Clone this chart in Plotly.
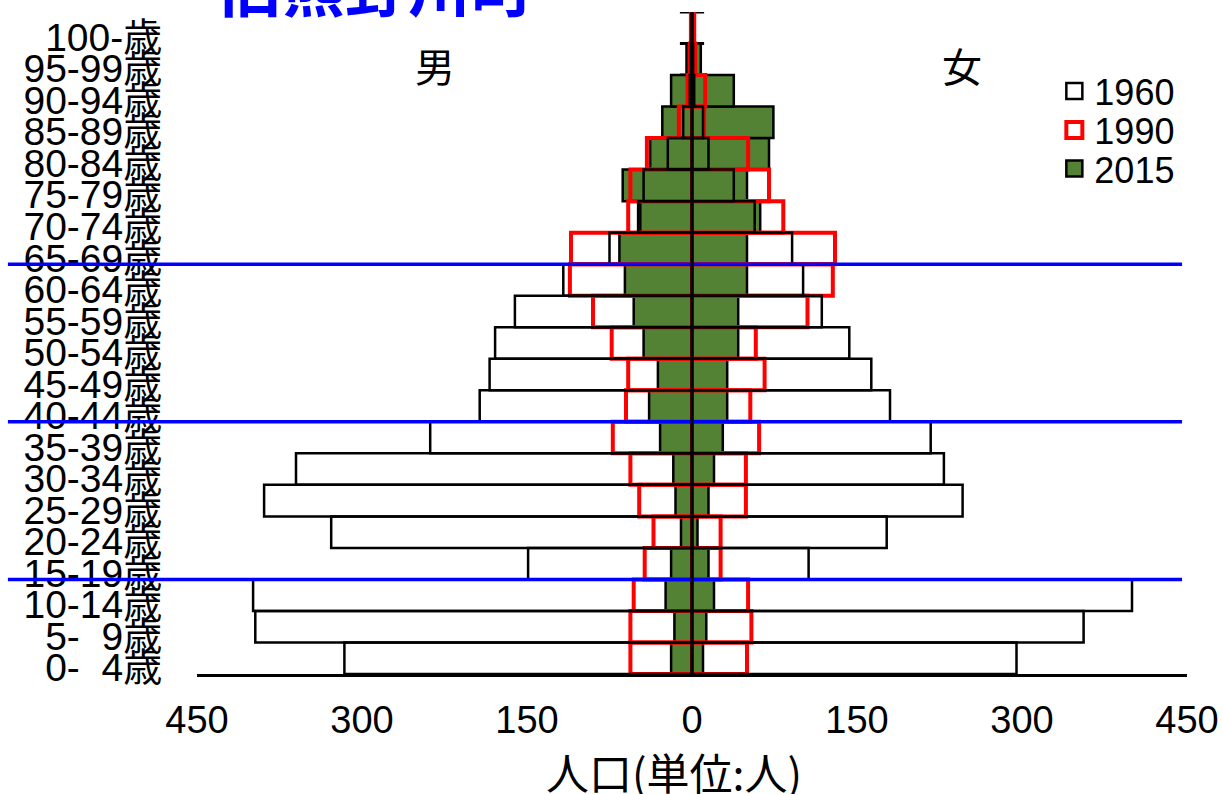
import plotly.graph_objects as go

# Age groups, youngest first (bottom row of the pyramid)
age_labels = [
    "0-\u00a0\u00a04歳", "5-\u00a0\u00a09歳", "10-14歳", "15-19歳", "20-24歳",
    "25-29歳", "30-34歳", "35-39歳", "40-44歳", "45-49歳", "50-54歳",
    "55-59歳", "60-64歳", "65-69歳", "70-74歳", "75-79歳", "80-84歳",
    "85-89歳", "90-94歳", "95-99歳", "100-歳",
]

# Population (persons) by age group
male_1960 = [316, 397, 399, 149, 328, 389, 360, 238, 193, 184, 179, 161, 117, 75, 49, 44, 22, 8, 2, 1, 0]
female_1960 = [295, 356, 400, 106, 177, 246, 229, 217, 180, 163, 143, 118, 101, 91, 57, 38, 15, 10, 2, 1, 0]

male_1990 = [56, 56, 53, 43, 35, 48, 56, 72, 60, 58, 73, 90, 111, 110, 58, 56, 41, 12, 4, 2, 1]
female_1990 = [50, 54, 51, 26, 26, 49, 49, 61, 53, 66, 58, 105, 128, 130, 83, 70, 51, 11, 12, 3, 2]

male_2015 = [19, 16, 24, 19, 10, 15, 17, 29, 39, 31, 44, 53, 61, 66, 47, 63, 38, 27, 19, 5, 0]
female_2015 = [10, 13, 20, 15, 5, 15, 20, 28, 32, 32, 42, 42, 50, 50, 62, 50, 70, 74, 38, 8, 1]

years = ["1960", "1990", "2015"]
x_tickvals = [-450, -300, -150, 0, 150, 300, 450]
x_ticktext = ["450", "300", "150", "0", "150", "300", "450"]

# Boundaries (between age groups) marked with blue reference lines
band_bounds = [2.5, 7.5, 12.5]

title_text = "旧熊野川町"
male_text = "男"
female_text = "女"
axis_title = "人口(単位:人)"

GREEN = "#548235"
RED = "#FF0000"
BLUE = "#0000FF"
LATIN = "Liberation Sans, Arial, Noto Sans CJK JP, sans-serif"
CJK = "Noto Sans CJK JP, sans-serif"

rows = list(range(len(age_labels)))

fig = go.Figure()


def add_pair(male, female, fill, line_color, line_width):
    for vals, sign in ((male, -1), (female, 1)):
        fig.add_trace(go.Bar(
            x=[sign * v for v in vals],
            y=rows,
            orientation="h",
            width=1,
            marker=dict(color=fill, line=dict(color=line_color, width=line_width)),
            showlegend=False,
            hoverinfo="skip",
        ))


# 2015 filled, 1990 red outline, 1960 black outline on top
add_pair(male_2015, female_2015, GREEN, "black", 2.5)
add_pair(male_1990, female_1990, "rgba(0,0,0,0)", RED, 4)
add_pair(male_1960, female_1960, "rgba(0,0,0,0)", "black", 2.5)

# Legend entries, one small legend per year so they can be spaced freely
legend_styles = {
    "1960": dict(color="white", line=dict(color="black", width=2.5)),
    "1990": dict(color="white", line=dict(color=RED, width=4)),
    "2015": dict(color=GREEN, line=dict(color="black", width=2.5)),
}
legend_ids = ["legend", "legend2", "legend3"]
legend_y = [0.8805, 0.8215, 0.7635]
for yr, lid in zip(years, legend_ids):
    fig.add_trace(go.Scatter(
        x=[None], y=[None], mode="markers", name=yr, legend=lid,
        marker=dict(symbol="square", size=17, **legend_styles[yr]),
    ))

legend_layout = {}
for lid, ly in zip(legend_ids, legend_y):
    legend_layout[lid] = dict(
        x=0.866, y=ly, xanchor="left", yanchor="middle",
        font=dict(family=LATIN, size=36, color="black"),
        bgcolor="rgba(0,0,0,0)",
    )

shapes = []
# cross ticks on the central axis
for b in [r - 0.5 for r in rows] + [rows[-1] + 0.5]:
    shapes.append(dict(type="line", xref="x", yref="y", x0=-11, x1=11, y0=b, y1=b,
                       line=dict(color="black", width=3), layer="below"))
# blue boundary lines
for b in band_bounds:
    shapes.append(dict(type="line", xref="paper", yref="y", x0=-0.191, x1=0.995, y0=b, y1=b,
                       line=dict(color=BLUE, width=3.5), layer="above"))
# central axis line
shapes.append(dict(type="line", xref="x", yref="y", x0=0, x1=0, y0=-0.5, y1=rows[-1] + 0.5,
                   line=dict(color="black", width=3), layer="above"))

annotations = [
    dict(text="<b>" + title_text + "</b>", xref="paper", yref="paper", x=0.181, y=1.043,
         xanchor="center", yanchor="middle", showarrow=False,
         font=dict(family=CJK, size=63, color=BLUE)),
    dict(text=male_text, xref="paper", yref="paper", x=0.240, y=0.92,
         xanchor="center", yanchor="middle", showarrow=False,
         font=dict(family=CJK, size=40, color="black")),
    dict(text=female_text, xref="paper", yref="paper", x=0.773, y=0.92,
         xanchor="center", yanchor="middle", showarrow=False,
         font=dict(family=CJK, size=40, color="black")),
    dict(text=axis_title, xref="paper", yref="paper", x=0.482, y=-0.147,
         xanchor="center", yanchor="middle", showarrow=False,
         font=dict(family=CJK, size=43, color="black")),
]

fig.update_layout(
    width=1223, height=794,
    margin=dict(l=197, r=36, t=12, b=120, autoexpand=False),
    paper_bgcolor="white", plot_bgcolor="white",
    barmode="overlay",
    shapes=shapes,
    annotations=annotations,
    xaxis=dict(range=[-450, 450], tickvals=x_tickvals, ticktext=x_ticktext,
               showgrid=False, zeroline=False, showline=True, linecolor="black", linewidth=2.5,
               ticks="outside", ticklen=11, tickcolor="rgba(0,0,0,0)", automargin=False,
               tickfont=dict(family=LATIN, size=38, color="black"), fixedrange=True),
    yaxis=dict(range=[-0.5, rows[-1] + 0.5], tickvals=[r - 0.3 for r in rows], ticktext=age_labels,
               showgrid=False, zeroline=False, showline=False, automargin=False,
               ticks="outside", ticklen=26, tickcolor="rgba(0,0,0,0)",
               tickfont=dict(family=LATIN, size=39, color="black"), fixedrange=True),
    **legend_layout,
)

fig.write_html("out.html")
